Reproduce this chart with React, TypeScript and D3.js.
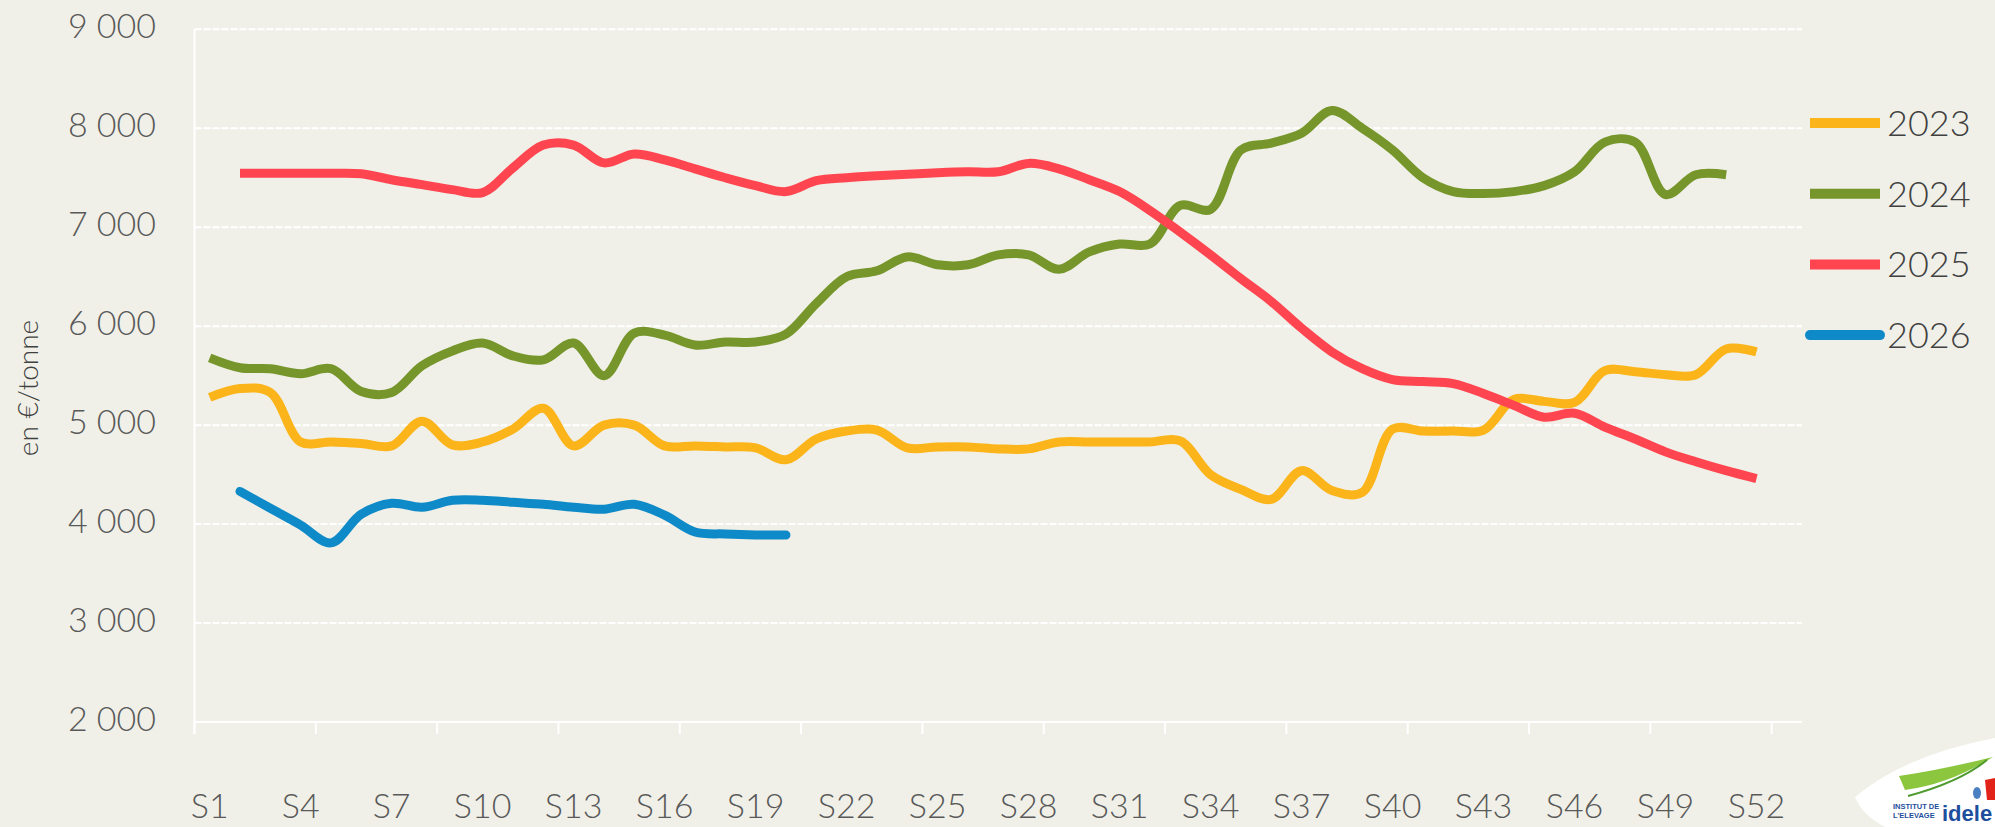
import React from "react"
import * as d3 from "d3"

// weeks S1..S53 (Excel axis has 53 slots, labels every 3, ticks every 4)
const weeks = d3.range(1, 54).map(i => "S" + i)

const yTicks = [2000, 3000, 4000, 5000, 6000, 7000, 8000, 9000]
const yTickLabels = ["2 000", "3 000", "4 000", "5 000", "6 000", "7 000", "8 000", "9 000"]

const years = ["2023", "2024", "2025", "2026"]
const colors = ["#FBB41A", "#76962B", "#FF454F", "#0F8AC8"]

// first week of each series
const startWeek = [1, 1, 2, 2]

const v2023 = [5280, 5370, 5330, 4830, 4830, 4815, 4790, 5040, 4800, 4830, 4960, 5170, 4790, 5000, 5000, 4790, 4790, 4780, 4770, 4650,
  4860, 4940, 4950, 4770, 4780, 4780, 4760, 4760, 4830, 4830, 4830, 4830, 4840, 4500, 4350, 4250, 4540, 4340, 4320, 4960,
  4940, 4940, 4950, 5260, 5240, 5230, 5550, 5540, 5510, 5510, 5770, 5740]
const v2024 = [5680, 5580, 5570, 5520, 5570, 5340, 5330, 5600, 5750, 5830, 5700, 5660, 5830, 5500, 5930, 5910, 5810, 5840, 5840, 5920,
  6230, 6500, 6560, 6700, 6620, 6620, 6720, 6720, 6575, 6750, 6830, 6830, 7220, 7180, 7780, 7850, 7950, 8180, 8000, 7780,
  7500, 7360, 7340, 7360, 7420, 7560, 7860, 7860, 7330, 7530, 7530]
const v2025 = [7545, 7545, 7545, 7545, 7540, 7480, 7430, 7380, 7350, 7600, 7830, 7830, 7650, 7740, 7680, 7590, 7500, 7420, 7360,
  7470, 7500, 7520, 7535, 7550, 7560, 7560, 7645, 7590, 7480, 7360, 7170, 6950, 6720, 6480, 6250, 5980, 5740, 5570, 5460,
  5440, 5420, 5320, 5200, 5080, 5120, 4980, 4860, 4730, 4630, 4540, 4460]
const v2026 = [4330, 4160, 3990, 3810, 4100, 4210, 4170, 4240, 4240, 4220, 4200, 4170, 4150, 4200, 4090, 3920, 3900, 3890, 3890]

const seriesValues = [v2023, v2024, v2025, v2026]

const W = 1995
const H = 827
const plot = { left: 194.5, right: 1802, top: 29.3, bottom: 722 }

const App: React.FC = () => {
  const x = d3.scaleBand<string>().domain(weeks).range([plot.left, plot.right]).padding(0)
  const y = d3.scaleLinear().domain([2000, 9000]).range([plot.bottom, plot.top])

  const line = d3.line<[string, number]>()
    .x(d => x(d[0])! + x.bandwidth() / 2)
    .y(d => y(d[1]))
    .curve(d3.curveCatmullRom.alpha(0.5))

  const tickIdx = d3.range(0, 53, 4)
  const labelIdx = d3.range(0, 52, 3)

  const font = "Lato, 'Open Sans', sans-serif"

  return (
    <div style={{ position: "fixed", left: 0, top: 0, width: W, height: H }}>
      <svg width={W} height={H} style={{ display: "block", background: "#F0F0E8" }}>
        {/* gridlines */}
        {yTicks.map(t => (
          <line key={t} x1={plot.left} x2={plot.right} y1={y(t)} y2={y(t)}
            stroke="#ffffff" strokeWidth={2} strokeDasharray={t === 2000 ? undefined : "7 2"} />
        ))}
        <line x1={plot.left} x2={plot.left} y1={plot.top} y2={plot.bottom + 12} stroke="#ffffff" strokeWidth={2} />
        {tickIdx.map(i => (
          <line key={i} x1={x(weeks[i])!} x2={x(weeks[i])!} y1={plot.bottom} y2={plot.bottom + 12}
            stroke="#ffffff" strokeWidth={2} />
        ))}

        {/* y labels */}
        {yTicks.map((t, i) => (
          <text key={t} x={156} y={y(t) + 9} textAnchor="end" fontFamily={font} fontWeight={300} fontSize={34} fill="#595959">
            {yTickLabels[i]}
          </text>
        ))}
        <text transform={`translate(38,388) rotate(-90)`} textAnchor="middle" fontFamily={font} fontWeight={300} fontSize={28} fill="#404040">
          en €/tonne
        </text>

        {/* x labels */}
        {labelIdx.map(i => (
          <text key={i} x={x(weeks[i])! + x.bandwidth() / 2} y={818} textAnchor="middle"
            fontFamily={font} fontWeight={300} fontSize={34} fill="#595959">
            {weeks[i]}
          </text>
        ))}

        {/* series */}
        {seriesValues.map((vals, s) => {
          const pts: [string, number][] = vals.map((v, i) => [weeks[startWeek[s] - 1 + i], v])
          return (
            <path key={years[s]} d={line(pts)!} fill="none" stroke={colors[s]} strokeWidth={9}
              strokeLinecap={s === 3 ? "round" : "butt"} strokeLinejoin="round" />
          )
        })}

        {/* legend */}
        {years.map((yr, i) => {
          const ly = 123 + i * 70.7
          return (
            <g key={yr}>
              <line x1={1810} x2={1880} y1={ly} y2={ly} stroke={colors[i]} strokeWidth={10}
                strokeLinecap={i === 3 ? "round" : "butt"} />
              <text x={1887} y={ly + 13} fontFamily={font} fontWeight={300} fontSize={36} fill="#404040">{yr}</text>
            </g>
          )
        })}

        {/* idele logo */}
        <g>
          <path d="M1855,797 Q1905,755 1995,738 L1995,827 L1885,827 Q1862,815 1855,797 Z" fill="#ffffff" />
          <path d="M1899,776 Q1940,770 1993,757 Q1950,784 1905,790 Z" fill="#8CC63F" />
          <path d="M1908,796 Q1960,782 1987,760" fill="none" stroke="#4E9A2E" strokeWidth={2} />
          <path d="M1985,780 L1995,778 L1995,800 L1987,800 Z" fill="#E2231A" />
          <ellipse cx={1977} cy={793} rx={4} ry={6} fill="#4A7FC1" />
          <text x={1893} y={809} fontFamily="'Liberation Sans', sans-serif" fontWeight="bold" fontSize={7.5}
            fill="#1E4F9C">INSTITUT DE</text>
          <text x={1893} y={818} fontFamily="'Liberation Sans', sans-serif" fontWeight="bold" fontSize={7.5}
            fill="#1E4F9C">L'ELEVAGE</text>
          <text x={1942} y={821} fontFamily="'Liberation Sans', sans-serif" fontWeight="bold" fontSize={22}
            fill="#1E4F9C">idele</text>
        </g>
      </svg>
    </div>
  )
}

export default App
